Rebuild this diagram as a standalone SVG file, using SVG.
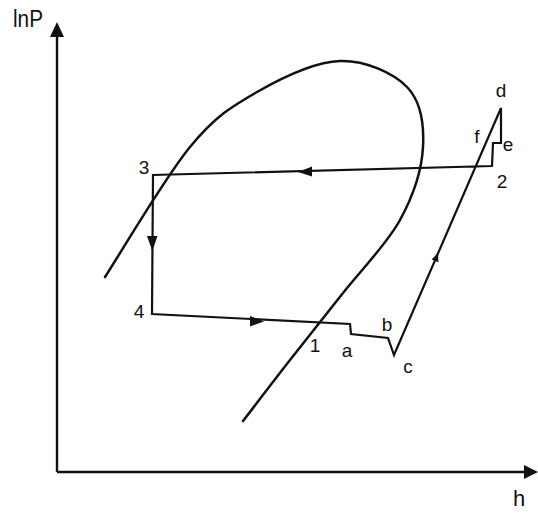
<svg xmlns="http://www.w3.org/2000/svg" width="538" height="513" viewBox="0 0 538 513">
<style>
.ln{fill:none;stroke:#111;stroke-width:2.2;stroke-linejoin:miter;stroke-linecap:round}
.ax{fill:none;stroke:#111;stroke-width:2.4}
.ah{fill:#111;stroke:none}
.t{font-family:"Liberation Sans",Arial,sans-serif;font-size:19px;fill:#111;text-anchor:middle}
</style>
<rect width="538" height="513" fill="#fff"/>
<g id="axes">
<path class="ax" d="M57,472 V32 M57,472 H528"/>
<polygon class="ah" points="57,22 50,37 64,37"/>
<polygon class="ah" points="538,472 524,465 524,479"/>
<text class="t" x="13" y="27" style="text-anchor:start;font-size:23px" textLength="30" lengthAdjust="spacingAndGlyphs">lnP</text>
<text class="t" x="519" y="506" style="font-size:22px">h</text>
</g>
<g id="saturation-curve">
<path class="ln" style="stroke-width:2.5" d="M105,277 C119.2,255.3 164.7,177.8 190,147 C215.3,116.2 232,106.3 257,92 C282,77.7 315,61.8 340,61 C365,60.2 393.2,72.7 407,87 C420.8,101.3 424.2,124.8 423,147 C421.8,169.2 413.3,195.7 400,220 C386.7,244.3 361.3,269.7 343,293 C324.7,316.3 306.7,338.7 290,360 C273.3,381.3 258.7,400.7 243,421"/>
</g>
<g id="connectors">
<path class="ln" d="M153,175 L152,314 L350,324 L351,334 L388,338 L394,355 L501,108 L501,143 L493,143 L492,166 Z"/>
<polygon class="ah" points="298,172 312,166.6 312,176.6"/>
<polygon class="ah" points="264,321.5 250,316 250,326.5"/>
<polygon class="ah" points="152.3,251 147,236 157.5,236"/>
<polygon class="ah" points="438,253 438.4,262.3 431.6,259.4"/>
</g>
<g id="labels">
<text class="t" x="144" y="174">3</text>
<text class="t" x="139" y="318">4</text>
<text class="t" x="315" y="352">1</text>
<text class="t" x="347" y="357">a</text>
<text class="t" x="387" y="331">b</text>
<text class="t" x="408" y="373">c</text>
<text class="t" x="501" y="97">d</text>
<text class="t" x="508" y="151">e</text>
<text class="t" x="477" y="143">f</text>
<text class="t" x="502" y="188">2</text>
</g>
</svg>
